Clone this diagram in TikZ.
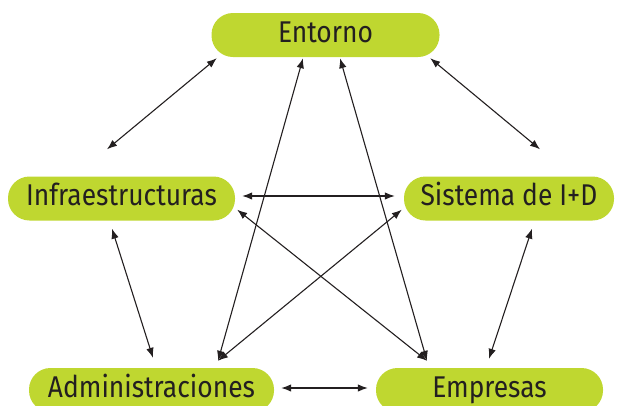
\documentclass[tikz,border=0pt]{standalone}
\usepackage{fontspec}
\setmainfont{Fira Sans}[FakeStretch=0.88]
\usetikzlibrary{arrows.meta,calc}
\definecolor{lima}{RGB}{191,215,48}
\definecolor{tinta}{RGB}{35,31,32}
\tikzset{
  box/.style={rectangle, rounded corners=21.5pt, fill=lima, minimum height=44pt,
    inner sep=0pt, text height=20pt, text depth=6pt, text=tinta,
    font=\fontsize{30}{32}\selectfont},
  link/.style={{Latex[length=10pt,width=7.5pt]}-{Latex[length=10pt,width=7.5pt]},
    line width=1.1pt, draw=tinta}
}

\begin{document}
\begin{tikzpicture}[x=1pt, y=-1pt]
\clip (0,0) rectangle (620,405);
\node[box, minimum width=228pt] (ent) at (325.5,35) {Entorno};
\node[box, minimum width=227pt] (inf) at (121.5,198.5) {Infraestructuras};
\node[box, minimum width=210pt] (sis) at (509,198.5) {Sistema de I+D};
\node[box, minimum width=245pt] (adm) at (151.5,390) {Administraciones};
\node[box, minimum width=227pt] (emp) at (489.5,390) {Empresas};

\draw[link] ($(ent.south west)+(5.5,1)$) -- ($(inf.north)+(-14.5,-27)$);
\draw[link] ($(ent.south east)+(-9.5,1)$) -- ($(sis.north)+(31,-27)$);
\draw[link] ($(ent.south)+(-22.5,1)$) -- ($(adm.north)+(66.5,-7)$);
\draw[link] ($(ent.south)+(14.5,1)$) -- ($(emp.north)+(-62.5,-7)$);
\draw[link] ($(inf.east)+(7,-2.5)$) -- ($(sis.west)+(-9,-2.5)$);
\draw[link] ($(inf.south east)+(2,-11)$) -- ($(emp.north)+(-62.5,-7)$);
\draw[link] ($(sis.south west)+(-2,-11)$) -- ($(adm.north)+(66.5,-7)$);
\draw[link] ($(inf.south)+(-9.5,8)$) -- ($(adm.north)+(1.5,-10)$);
\draw[link] ($(sis.south)+(23,8)$) -- ($(emp.north)+(-0.5,-9)$);
\draw[link] ($(adm.east)+(7,-2)$) -- ($(emp.west)+(-8,-2)$);
\end{tikzpicture}
\end{document}
